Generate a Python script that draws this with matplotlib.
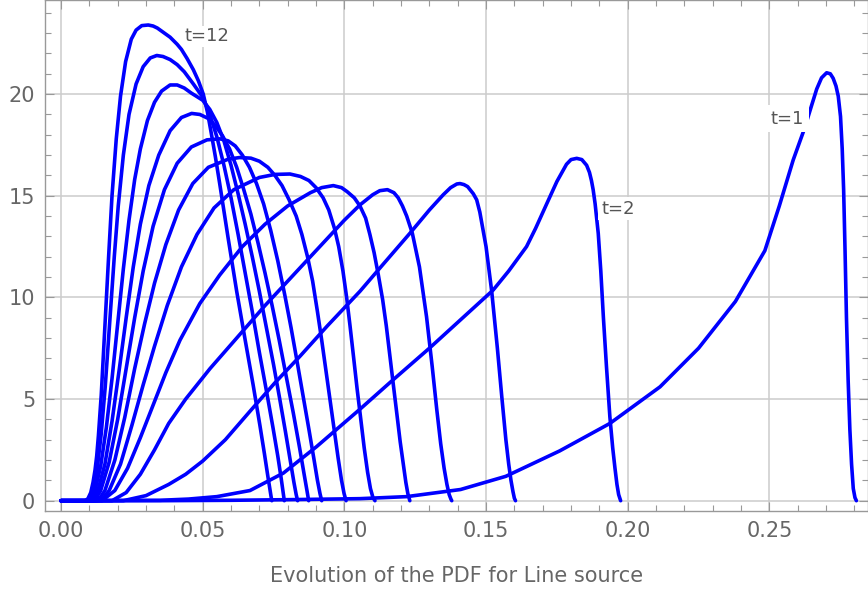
import matplotlib.pyplot as plt
from matplotlib.ticker import MultipleLocator, FormatStrFormatter

# values (x, pdf) for each t
t1_x = [0.0, 0.035, 0.06, 0.08, 0.1055, 0.122, 0.141, 0.157, 0.176, 0.1937, 0.2114, 0.225, 0.238,
        0.2484, 0.2535, 0.2584, 0.2625, 0.2648, 0.2667, 0.2684, 0.2702, 0.2715, 0.2725, 0.2735,
        0.2743, 0.2751, 0.2757, 0.2762, 0.2767, 0.2772, 0.2778, 0.2784, 0.2790, 0.2796, 0.2802,
        0.2807]
t1_y = [0.0, 0.0, 0.02, 0.05, 0.1, 0.2, 0.55, 1.2, 2.45, 3.8, 5.6, 7.5, 9.8,
        12.3, 14.5, 16.76, 18.35, 19.4, 20.25, 20.8, 21.05, 21.0, 20.78, 20.4,
        19.9, 18.9, 17.3, 15.3, 12.3, 9.0, 5.9, 3.5, 1.8, 0.6, 0.15,
        0.0]

t2_x = [0.0, 0.035, 0.045, 0.055, 0.0667, 0.0785, 0.0902, 0.1055, 0.116, 0.130, 0.1525, 0.158,
        0.1643, 0.1675, 0.1714, 0.175, 0.1784, 0.180, 0.182, 0.1838, 0.1855, 0.1865, 0.1872,
        0.1878, 0.1885, 0.1896, 0.1905, 0.1914, 0.1925, 0.1937, 0.1947, 0.1955, 0.1962, 0.1968,
        0.1975]
t2_y = [0.0, 0.02, 0.08, 0.2, 0.5, 1.36, 2.66, 4.5, 5.8, 7.5, 10.36, 11.3,
        12.5, 13.4, 14.6, 15.7, 16.55, 16.78, 16.84, 16.78, 16.5, 16.15, 15.75,
        15.3, 14.6, 13.15, 11.3, 9.05, 6.6, 4.13, 2.6, 1.6, 0.8, 0.3,
        0.0]

t3_x = [0.0, 0.022, 0.030, 0.038, 0.044, 0.050, 0.058, 0.0667, 0.0755, 0.0843, 0.094, 0.1055,
        0.1135, 0.1231, 0.130, 0.1349, 0.1375, 0.1397, 0.1408, 0.1422, 0.1435, 0.1455, 0.1467,
        0.1478, 0.150, 0.152, 0.154, 0.1555, 0.157, 0.158, 0.1588, 0.1595, 0.160, 0.1604]
t3_y = [0.0, 0.0, 0.25, 0.8, 1.3, 1.95, 3.0, 4.4, 5.8, 7.1, 8.6, 10.3,
        11.6, 13.15, 14.3, 15.05, 15.4, 15.58, 15.6, 15.55, 15.45, 15.1, 14.8,
        14.2, 12.5, 10.3, 7.5, 5.2, 3.0, 1.8, 1.0, 0.45, 0.12, 0.0]

t4_x = [0.0, 0.018, 0.023, 0.028, 0.033, 0.038, 0.044, 0.0526, 0.062, 0.072, 0.082, 0.092,
        0.100, 0.1055, 0.110, 0.1125, 0.1152, 0.1175, 0.119, 0.1205, 0.122, 0.124, 0.1265,
        0.129, 0.131, 0.1326, 0.134, 0.1352, 0.1362, 0.137, 0.1376, 0.1379]
t4_y = [0.0, 0.0, 0.4, 1.3, 2.5, 3.8, 5.0, 6.5, 8.0, 9.6, 11.1, 12.6,
        13.8, 14.55, 15.05, 15.25, 15.3, 15.15, 14.9, 14.5, 14.0, 13.15, 11.5,
        9.05, 6.6, 4.5, 2.8, 1.6, 0.8, 0.3, 0.08, 0.0]

t5_x = [0.0, 0.0145, 0.019, 0.0235, 0.028, 0.0325, 0.037, 0.042, 0.049, 0.056, 0.064, 0.072,
        0.080, 0.088, 0.092, 0.0961, 0.099, 0.101, 0.1035, 0.1055, 0.1075, 0.109, 0.1105,
        0.112, 0.1135, 0.1148, 0.116, 0.1172, 0.1185, 0.1197, 0.1208, 0.1217, 0.1224, 0.1231]
t5_y = [0.0, 0.0, 0.5, 1.6, 3.1, 4.7, 6.3, 7.9, 9.7, 11.1, 12.5, 13.6,
        14.5, 15.15, 15.4, 15.5, 15.4, 15.2, 14.9, 14.5, 13.9, 13.1, 12.2,
        11.1, 9.9, 8.6, 7.2, 5.8, 4.3, 2.9, 1.8, 0.9, 0.35, 0.0]

t6_x = [0.0, 0.013, 0.015, 0.017, 0.021, 0.025, 0.029, 0.033, 0.0375, 0.0425, 0.048, 0.054,
        0.061, 0.070, 0.0755, 0.0808, 0.0845, 0.0875, 0.090, 0.0925, 0.0945, 0.0965, 0.098,
        0.0995, 0.1008, 0.102, 0.1033, 0.1045, 0.1058, 0.107, 0.1082, 0.1092, 0.1101, 0.1108]
t6_y = [0.0, 0.0, 0.15, 0.5, 1.8, 3.7, 5.7, 7.6, 9.6, 11.5, 13.1, 14.4,
        15.3, 15.9, 16.05, 16.07, 15.95, 15.75, 15.4, 14.9, 14.3, 13.4, 12.5,
        11.3, 10.0, 8.6, 7.0, 5.5, 4.0, 2.6, 1.4, 0.6, 0.15, 0.0]

t7_x = [0.0, 0.012, 0.0138, 0.0155, 0.019, 0.0225, 0.026, 0.0295, 0.033, 0.037, 0.0415, 0.0465,
        0.052, 0.059, 0.063, 0.067, 0.070, 0.073, 0.0755, 0.078, 0.0805, 0.083, 0.085,
        0.087, 0.0888, 0.0905, 0.092, 0.0935, 0.095, 0.0965, 0.0978, 0.099, 0.0999, 0.1006]
t7_y = [0.0, 0.0, 0.15, 0.5, 2.0, 4.1, 6.5, 8.7, 10.7, 12.6, 14.3, 15.6,
        16.4, 16.8, 16.88, 16.85, 16.7, 16.4, 16.0, 15.5, 14.8, 14.0, 13.1,
        12.0, 10.8, 9.3, 7.9, 6.4, 4.9, 3.4, 2.1, 1.0, 0.35, 0.0]

t8_x = [0.0, 0.011, 0.0125, 0.014, 0.017, 0.020, 0.023, 0.026, 0.029, 0.0325, 0.0365, 0.041,
        0.046, 0.0515, 0.0561, 0.059, 0.0615, 0.064, 0.0665, 0.069, 0.0715, 0.074, 0.0765,
        0.079, 0.0812, 0.0835, 0.0855, 0.0875, 0.0892, 0.0905, 0.0914, 0.092]
t8_y = [0.0, 0.0, 0.15, 0.5, 1.9, 4.0, 6.5, 9.0, 11.3, 13.5, 15.3, 16.6,
        17.4, 17.75, 17.8, 17.7, 17.45, 17.0, 16.4, 15.6, 14.6, 13.3, 11.8,
        10.1, 8.5, 6.7, 5.1, 3.5, 2.1, 1.0, 0.35, 0.0]

t9_x = [0.0, 0.010, 0.0115, 0.013, 0.0155, 0.018, 0.0205, 0.023, 0.0255, 0.028, 0.031, 0.0345,
        0.0385, 0.0425, 0.0461, 0.049, 0.052, 0.0545, 0.057, 0.0595, 0.062, 0.0645, 0.067,
        0.0695, 0.072, 0.0745, 0.077, 0.0795, 0.082, 0.0842, 0.0858, 0.0868, 0.0874]
t9_y = [0.0, 0.0, 0.15, 0.5, 1.8, 3.9, 6.4, 9.0, 11.5, 13.6, 15.5, 17.0,
        18.2, 18.85, 19.05, 19.0, 18.8, 18.45, 17.95, 17.3, 16.4, 15.3, 14.1,
        12.7, 11.2, 9.6, 7.9, 6.1, 4.3, 2.6, 1.3, 0.5, 0.0]

t10_x = [0.0, 0.0095, 0.0108, 0.012, 0.014, 0.016, 0.018, 0.020, 0.022, 0.024, 0.026, 0.028,
         0.0305, 0.033, 0.0355, 0.0385, 0.041, 0.0435, 0.046, 0.050, 0.0525, 0.055, 0.0575,
         0.060, 0.0625, 0.065, 0.0675, 0.070, 0.0725, 0.075, 0.0772, 0.0792, 0.081, 0.0822,
         0.083, 0.0835]
t10_y = [0.0, 0.0, 0.15, 0.5, 1.7, 3.6, 6.0, 8.7, 11.4, 13.8, 15.8, 17.3,
         18.7, 19.6, 20.15, 20.45, 20.45, 20.3, 20.05, 19.7, 19.25, 18.6, 17.7,
         16.5, 15.1, 13.6, 12.0, 10.3, 8.5, 6.7, 5.0, 3.4, 1.9, 0.9,
         0.3, 0.0]

t11_x = [0.0, 0.009, 0.010, 0.011, 0.012, 0.0128, 0.0142, 0.0156, 0.0172, 0.0188, 0.0202, 0.022,
         0.024, 0.0265, 0.029, 0.0315, 0.0338, 0.036, 0.0385, 0.041, 0.0435, 0.0467, 0.050,
         0.0525, 0.055, 0.0575, 0.060, 0.0625, 0.065, 0.0675, 0.070, 0.0725, 0.0748, 0.0765,
         0.0777, 0.0784, 0.0788]
t11_y = [0.0, 0.0, 0.1, 0.4, 0.9, 1.6, 3.3, 5.6, 8.8, 12.0, 14.5, 17.0,
         19.0, 20.5, 21.35, 21.78, 21.9, 21.85, 21.7, 21.45, 21.1, 20.5, 19.85,
         19.0, 17.9, 16.5, 14.9, 13.1, 11.2, 9.3, 7.3, 5.4, 3.6, 2.2,
         1.1, 0.4, 0.0]

t12_x = [0.0, 0.0085, 0.0095, 0.0105, 0.0113, 0.012, 0.0126, 0.0132, 0.0142, 0.0155, 0.0168, 0.018,
         0.0195, 0.021, 0.0228, 0.0248, 0.0265, 0.0285, 0.0308, 0.0325, 0.034, 0.036, 0.0385,
         0.041, 0.0425, 0.0445, 0.0467, 0.0485, 0.0502, 0.0517, 0.053, 0.0545, 0.056, 0.059,
         0.062, 0.065, 0.0678, 0.0702, 0.0718, 0.073, 0.0738, 0.0742, 0.0744]
t12_y = [0.0, 0.0, 0.1, 0.4, 0.9, 1.5, 2.2, 3.2, 5.2, 8.6, 12.0, 15.0,
         17.8, 19.9, 21.6, 22.7, 23.15, 23.37, 23.4, 23.35, 23.25, 23.05, 22.8,
         22.45, 22.2, 21.75, 21.2, 20.65, 20.0, 19.1, 18.1, 16.9, 15.6, 12.9,
         10.3, 7.9, 5.7, 3.7, 2.3, 1.2, 0.5, 0.15, 0.0]

curve_x = [t1_x, t2_x, t3_x, t4_x, t5_x, t6_x, t7_x, t8_x, t9_x, t10_x, t11_x, t12_x]
curve_y = [t1_y, t2_y, t3_y, t4_y, t5_y, t6_y, t7_y, t8_y, t9_y, t10_y, t11_y, t12_y]

label_text = ["t=12", "t=2", "t=1"]
label_pos = [(0.0514, 22.85), (0.1965, 14.37), (0.2562, 18.8)]
label_pad = [1.2, 2.0, 3.5]

x_ticks = [0.00, 0.05, 0.10, 0.15, 0.20, 0.25]
y_ticks = [0, 5, 10, 15, 20]


def main():
    fig = plt.figure(figsize=(8.68, 5.94), dpi=100)
    ax = fig.add_axes([45 / 868, 83 / 594, 823 / 868, 511 / 594])

    for xs, ys in zip(curve_x, curve_y):
        ax.plot(xs, ys, color="#0000ff", lw=2.6, solid_joinstyle="round",
                solid_capstyle="round", zorder=3)

    for txt, (lx, ly), pd in zip(label_text, label_pos, label_pad):
        ax.text(lx, ly, txt, fontsize=13, color="#555555", ha="center", va="center",
                bbox=dict(facecolor="white", edgecolor="none", pad=pd), zorder=4)

    ax.set_xlim(-0.00565, 0.2848)
    ax.set_ylim(-0.507, 24.63)
    ax.set_xticks(x_ticks)
    ax.set_yticks(y_ticks)
    ax.xaxis.set_major_formatter(FormatStrFormatter("%.2f"))
    ax.xaxis.set_minor_locator(MultipleLocator(0.01))
    ax.yaxis.set_minor_locator(MultipleLocator(1))
    ax.grid(True, which="major", color="#cccccc", lw=1.1, zorder=1)

    for sp in ax.spines.values():
        sp.set_color("#999999")
        sp.set_linewidth(1.0)
    ax.tick_params(which="both", direction="in", top=True, right=True,
                   color="#999999", labelcolor="#666666", labelsize=15)
    ax.tick_params(which="major", length=6.5, width=0.8, pad=7)
    ax.tick_params(which="minor", length=4, width=0.8)

    ax.set_xlabel("Evolution of the PDF for Line source", fontsize=15,
                  color="#666666", labelpad=18)

    fig.savefig("out.png", dpi=100)


if __name__ == "__main__":
    main()
